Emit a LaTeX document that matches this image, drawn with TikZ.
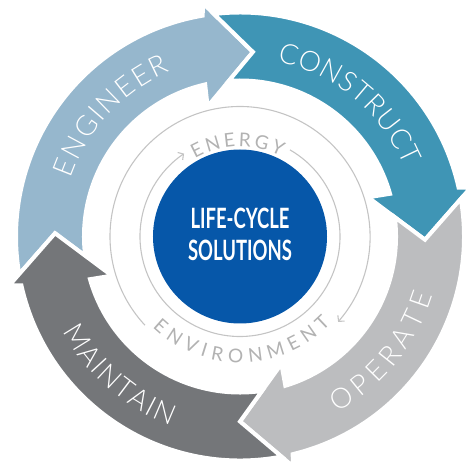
\documentclass[tikz,border=0pt]{standalone}
\usepackage{fontspec}
\usepackage{xcolor}
\usetikzlibrary{arrows.meta,decorations.text}
\setmainfont{Lato}
\IfFontExistsTF{Lato Light}{\newfontfamily\lightfont{Lato Light}}{\newfontfamily\lightfont{Lato}}

\definecolor{engcol}{HTML}{96B7CD}
\definecolor{concol}{HTML}{3F95B5}
\definecolor{opecol}{HTML}{BCBDBF}
\definecolor{maicol}{HTML}{747679}
\definecolor{hubcol}{HTML}{0657A9}
\definecolor{ringgray}{HTML}{C4C4C4}
\definecolor{wordgray}{HTML}{B2B2B2}

% curved ring arrow: tail angle, tip angle, colour
\newcommand{\ringarrow}[3]{%
  \filldraw[fill=#3, draw=white, line width=4pt]
    ({#1+10.67}:224pt) arc[start angle={#1+10.67}, end angle={#2+13.6}, radius=224pt]
    -- ({#2+13}:236pt) -- (#2:185pt) -- ({#2+18}:134pt) -- ({#2+16.9}:156pt)
    arc[start angle={#2+16.9}, end angle={#1+8.1}, radius=156pt]
    -- (#1:185pt) -- cycle;}

% text on an arc: start angle, end angle, radius, colour, font, text
\newcommand{\arclabel}[6]{%
  \path[decorate, decoration={text along path, text align=fit to path,
    text color=#4, text={|#5|#6}}]
    (#1:#3) arc[start angle=#1, end angle=#2, radius=#3];}

\begin{document}
\begin{tikzpicture}[
  x=1pt, y=1pt,
  hub/.style={circle, fill=hubcol, minimum size=174pt, inner sep=0pt},
  hubword/.style={text=white, font=\bfseries\fontsize{28}{28}\selectfont, xscale=0.66, transform shape, inner sep=0pt},
  thinline/.style={draw=ringgray, line width=1.1pt},
  barb/.style={-{Straight Barb[length=4pt, width=9pt]}}
]
\useasboundingbox (-240,-233.5) rectangle (230,236.5);

\ringarrow{179}{86}{engcol}
\ringarrow{86}{-1}{concol}
\ringarrow{-1}{-90}{opecol}
\ringarrow{-90}{-181}{maicol}

\arclabel{161}{113}{179pt}{white}{\lightfont\fontsize{28}{28}\selectfont}{ENGINEER}
\arclabel{78}{23}{179pt}{white}{\lightfont\fontsize{28}{28}\selectfont}{CONSTRUCT}
\arclabel{-61}{-17}{201pt}{white}{\lightfont\fontsize{28}{28}\selectfont}{OPERATE}
\arclabel{-152}{-110}{201pt}{white}{\lightfont\fontsize{28}{28}\selectfont}{MAINTAIN}

% energy / environment loop
\draw[thinline, barb] (60:100pt) arc[start angle=60, end angle=-236, radius=100pt];
\draw[thinline, barb] (223:130pt) arc[start angle=223, end angle=-41, radius=130pt];
\arclabel{120}{63}{90pt}{wordgray}{\fontsize{19}{19}\selectfont}{ENERGY}
\arclabel{-134}{-44}{126pt}{wordgray}{\fontsize{19}{19}\selectfont}{ENVIRONMENT}

\node[hub] (hub) at (0,0) {};
\node[hubword] (life) at (0,18) {LIFE-CYCLE};
\node[hubword] (sol) at (0,-14) {SOLUTIONS};
\end{tikzpicture}
\end{document}
